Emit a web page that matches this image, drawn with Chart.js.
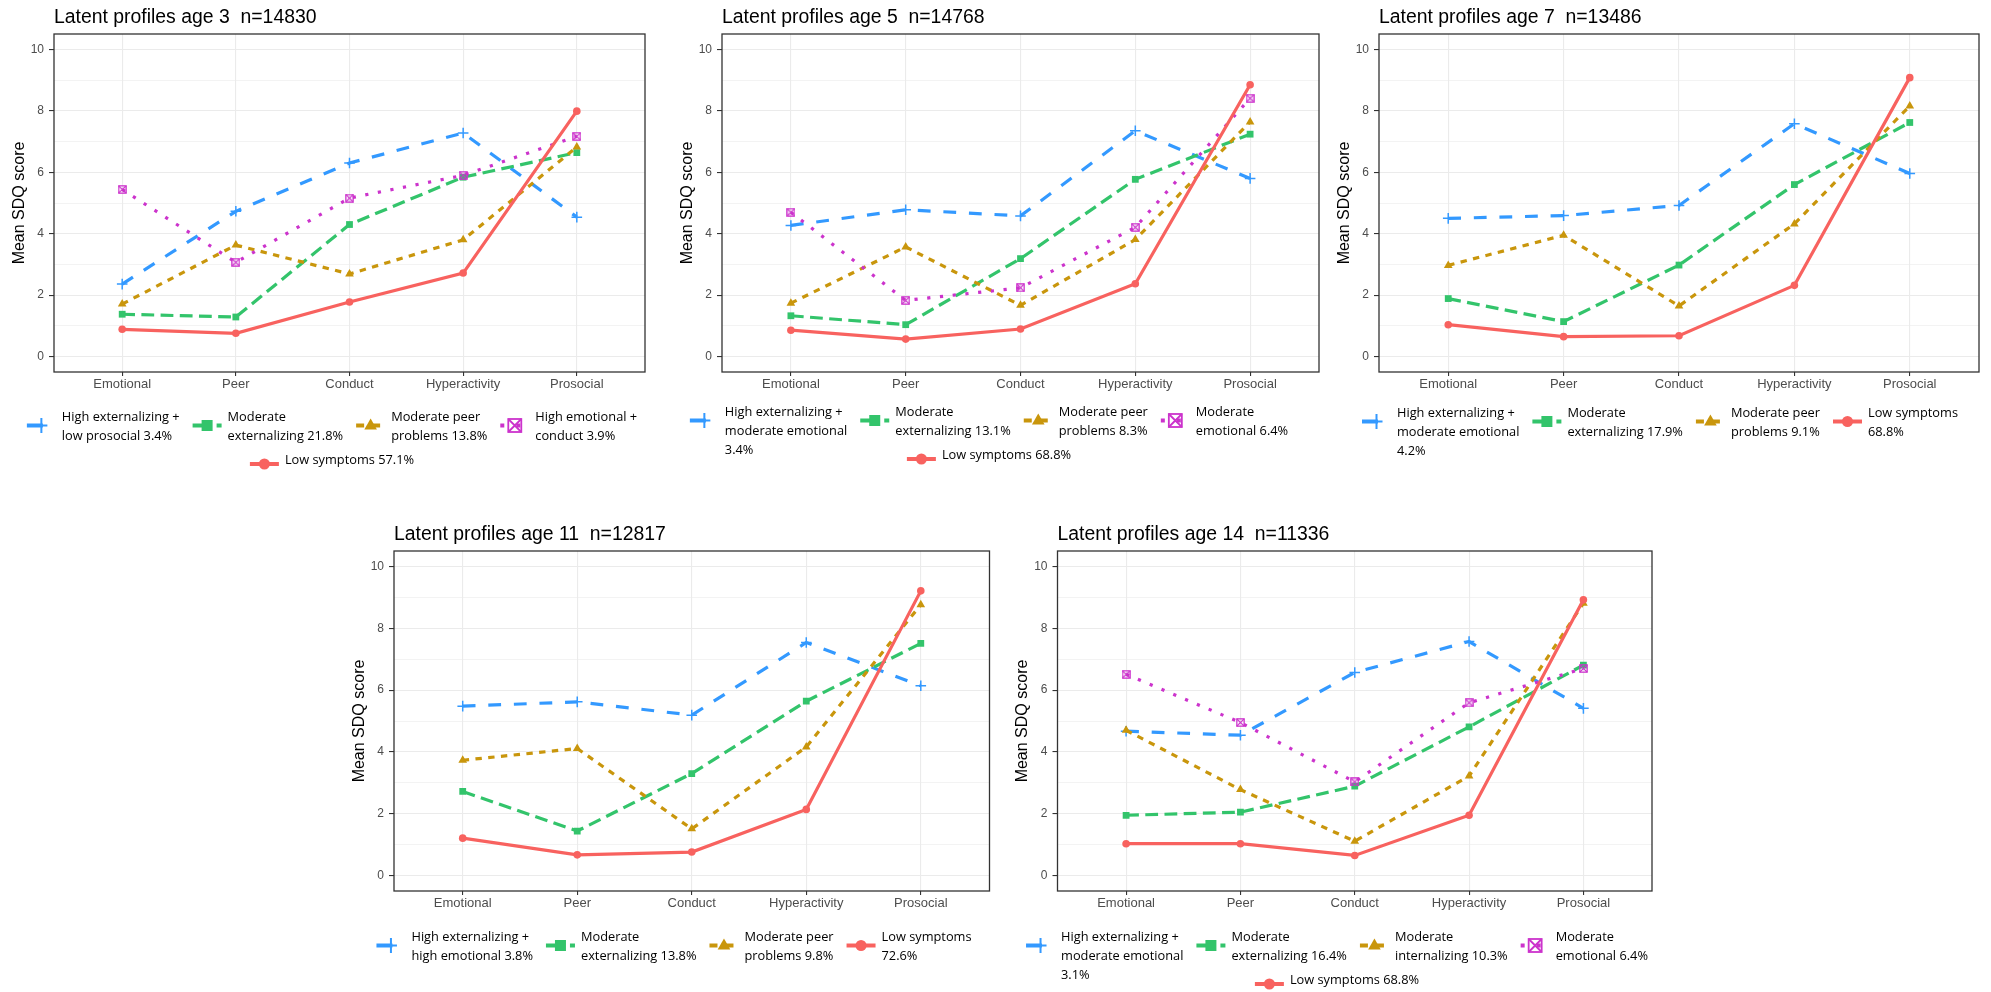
<!DOCTYPE html>
<html>
<head>
<meta charset="utf-8">
<script src="https://cdn.jsdelivr.net/npm/chart.js@4.4.1/dist/chart.umd.min.js"></script>
<style>
  html, body { margin: 0; padding: 0; background: #fff; }
  body { width: 1991px; height: 992px; position: relative; overflow: hidden; }
  canvas { position: absolute; }
</style>
</head>
<body>
<canvas id="age3"></canvas>
<canvas id="age5"></canvas>
<canvas id="age7"></canvas>
<canvas id="age11"></canvas>
<canvas id="age14"></canvas>
<script>
// ---- data ----
const categories = ['Emotional', 'Peer', 'Conduct', 'Hyperactivity', 'Prosocial'];
const yTicks = [0, 2, 4, 6, 8, 10];
const yMinor = [1, 3, 5, 7, 9];
const yTitle = 'Mean SDQ score';

// age 3
const hiExt3 = [2.36, 4.73, 6.30, 7.28, 4.54];
const modExt3 = [1.38, 1.29, 4.30, 5.84, 6.64];
const modPeer3 = [1.71, 3.63, 2.69, 3.80, 6.82];
const hiEmo3 = [5.44, 3.07, 5.16, 5.90, 7.17];
const low3 = [0.89, 0.76, 1.78, 2.72, 7.99];
// age 5
const hiExt5 = [4.27, 4.78, 4.58, 7.35, 5.80];
const modExt5 = [1.33, 1.04, 3.19, 5.77, 7.24];
const modPeer5 = [1.74, 3.57, 1.67, 3.81, 7.64];
const modEmo5 = [4.70, 1.83, 2.24, 4.21, 8.41];
const low5 = [0.86, 0.57, 0.90, 2.37, 8.85];
// age 7
const hiExt7 = [4.50, 4.59, 4.92, 7.58, 5.96];
const modExt7 = [1.89, 1.14, 2.98, 5.60, 7.62];
const modPeer7 = [2.97, 3.95, 1.65, 4.32, 8.16];
const low7 = [1.04, 0.65, 0.68, 2.32, 9.08];
// age 11
const hiExt11 = [5.48, 5.62, 5.19, 7.54, 6.14];
const modExt11 = [2.72, 1.44, 3.30, 5.64, 7.51];
const modPeer11 = [3.73, 4.11, 1.51, 4.16, 8.76];
const low11 = [1.21, 0.67, 0.76, 2.14, 9.21];
// age 14
const hiExt14 = [4.67, 4.54, 6.57, 7.57, 5.41];
const modExt14 = [1.95, 2.05, 2.89, 4.81, 6.81];
const modInt14 = [4.70, 2.78, 1.11, 3.22, 8.81];
const modEmo14 = [6.51, 4.95, 3.03, 5.59, 6.70];
const low14 = [1.03, 1.03, 0.65, 1.95, 8.92];

// legend labels (line breaks as in the picture)
const labels3 = [['High externalizing +', 'low prosocial 3.4%'], ['Moderate', 'externalizing 21.8%'],
  ['Moderate peer', 'problems 13.8%'], ['High emotional +', 'conduct 3.9%'], ['Low symptoms 57.1%']];
const labels5 = [['High externalizing +', 'moderate emotional', '3.4%'], ['Moderate', 'externalizing 13.1%'],
  ['Moderate peer', 'problems 8.3%'], ['Moderate', 'emotional 6.4%'], ['Low symptoms 68.8%']];
const labels7 = [['High externalizing +', 'moderate emotional', '4.2%'], ['Moderate', 'externalizing 17.9%'],
  ['Moderate peer', 'problems 9.1%'], ['Low symptoms', '68.8%']];
const labels11 = [['High externalizing +', 'high emotional 3.8%'], ['Moderate', 'externalizing 13.8%'],
  ['Moderate peer', 'problems 9.8%'], ['Low symptoms', '72.6%']];
const labels14 = [['High externalizing +', 'moderate emotional', '3.1%'], ['Moderate', 'externalizing 16.4%'],
  ['Moderate', 'internalizing 10.3%'], ['Moderate', 'emotional 6.4%'], ['Low symptoms 68.8%']];

// ---- styles ----
const LW = 3.2; // line width, dash units are multiples of it (ggplot style)
const S = {
  blue:    { color: '#3399FF', dash: [4, 4], point: 'cross' },
  green:   { color: '#33C46B', dash: [4, 2], point: 'rect' },
  gold:    { color: '#C9960C', dash: [2, 2], point: 'triangle' },
  magenta: { color: '#CC33CC', dash: [1, 3], point: 'boxX' },
  red:     { color: '#F8625F', dash: [], point: 'circle' }
};

const baseFont = '"Liberation Sans", Arial, sans-serif';
const legendFont = '12.8px "Open Sans", "Noto Sans", sans-serif';

function makeBoxX(size, lw, color) {
  const c = document.createElement('canvas');
  c.width = size; c.height = size;
  const g = c.getContext('2d');
  g.strokeStyle = color; g.lineWidth = lw;
  const m = lw / 2 + 0.2;
  g.strokeRect(m, m, size - 2 * m, size - 2 * m);
  g.beginPath();
  g.moveTo(m, m); g.lineTo(size - m, size - m);
  g.moveTo(size - m, m); g.lineTo(m, size - m);
  g.stroke();
  return c;
}
const boxXPoint = makeBoxX(9, 1.3, S.magenta.color);

function pointOpts(style) {
  switch (style.point) {
    case 'cross': return { pointStyle: 'cross', pointRadius: 5.3, pointBorderWidth: 1.5 };
    case 'rect': return { pointStyle: 'rect', pointRadius: 4.8, pointBorderWidth: 0 };
    case 'triangle': return { pointStyle: 'triangle', pointRadius: 5, pointBorderWidth: 0 };
    case 'boxX': return { pointStyle: boxXPoint, pointRadius: 4.5, pointBorderWidth: 0 };
    default: return { pointStyle: 'circle', pointRadius: 3.8, pointBorderWidth: 0 };
  }
}

// legend key marker (drawn larger than in the plot, like the picture)
function keyMarker(ctx, style, x, y) {
  ctx.save();
  ctx.fillStyle = style.color; ctx.strokeStyle = style.color; ctx.setLineDash([]);
  ctx.beginPath();
  if (style.point === 'cross') {
    ctx.lineWidth = 2;
    ctx.moveTo(x, y - 7.5); ctx.lineTo(x, y + 7.5);
    ctx.moveTo(x - 6, y); ctx.lineTo(x + 6, y);
    ctx.stroke();
  } else if (style.point === 'rect') {
    ctx.fillRect(x - 5.5, y - 5.5, 11, 11);
  } else if (style.point === 'triangle') {
    ctx.moveTo(x, y - 7); ctx.lineTo(x + 6.3, y + 4); ctx.lineTo(x - 6.3, y + 4); ctx.closePath();
    ctx.fill();
  } else if (style.point === 'boxX') {
    ctx.lineWidth = 1.8;
    ctx.strokeRect(x - 6.5, y - 6.5, 13, 13);
    ctx.moveTo(x - 6.5, y - 6.5); ctx.lineTo(x + 6.5, y + 6.5);
    ctx.moveTo(x + 6.5, y - 6.5); ctx.lineTo(x - 6.5, y + 6.5);
    ctx.stroke();
  } else {
    ctx.arc(x, y, 5.5, 0, Math.PI * 2);
    ctx.fill();
  }
  ctx.restore();
}

// ---- panels (page layout) ----
const panels = [
  { id: 'age3', title: 'Latent profiles age 3  n=14830', left: 0, top: 0, width: 665, height: 490,
    box: [54, 34, 645, 372], legendX: 332, legendY: 417, rows: [[0, 1, 2, 3], [4]],
    series: [[hiExt3, S.blue], [modExt3, S.green], [modPeer3, S.gold], [hiEmo3, S.magenta], [low3, S.red]], labels: labels3 },
  { id: 'age5', title: 'Latent profiles age 5  n=14768', left: 665, top: 0, width: 665, height: 490,
    box: [722, 34, 1319, 372], legendX: 989, legendY: 412, rows: [[0, 1, 2, 3], [4]],
    series: [[hiExt5, S.blue], [modExt5, S.green], [modPeer5, S.gold], [modEmo5, S.magenta], [low5, S.red]], labels: labels5 },
  { id: 'age7', title: 'Latent profiles age 7  n=13486', left: 1330, top: 0, width: 661, height: 490,
    box: [1379, 34, 1979, 372], legendX: 1660, legendY: 413, rows: [[0, 1, 2, 3]],
    series: [[hiExt7, S.blue], [modExt7, S.green], [modPeer7, S.gold], [low7, S.red]], labels: labels7 },
  { id: 'age11', title: 'Latent profiles age 11  n=12817', left: 340, top: 495, width: 665, height: 497,
    box: [394, 551, 989.5, 891], legendX: 674, legendY: 937, rows: [[0, 1, 2, 3]],
    series: [[hiExt11, S.blue], [modExt11, S.green], [modPeer11, S.gold], [low11, S.red]], labels: labels11 },
  { id: 'age14', title: 'Latent profiles age 14  n=11336', left: 1005, top: 495, width: 680, height: 497,
    box: [1057.5, 551, 1652, 891], legendX: 1337, legendY: 937, rows: [[0, 1, 2, 3], [4]],
    series: [[hiExt14, S.blue], [modExt14, S.green], [modInt14, S.gold], [modEmo14, S.magenta], [low14, S.red]], labels: labels14 }
];

function drawLegend(ctx, p) {
  const KEY_W = 29, TEXT_OFF = 35, GAP = 13, LINE_H = 19.3;
  ctx.save();
  ctx.font = legendFont;
  ctx.textAlign = 'left';
  ctx.textBaseline = 'middle';
  p.rows.forEach((row, r) => {
    const widths = row.map(i => TEXT_OFF + Math.max(...p.labels[i].map(t => ctx.measureText(t).width)));
    const total = widths.reduce((a, b) => a + b, 0) + GAP * (row.length - 1);
    let x = p.legendX - p.left - total / 2;
    const y0 = p.legendY - p.top + r * 43;
    row.forEach((i, k) => {
      const style = p.series[i][1];
      const lines = p.labels[i];
      const ky = lines.length > 1 ? y0 + 8.5 : y0 + 4;
      // key line
      ctx.save();
      ctx.strokeStyle = style.color;
      ctx.lineWidth = 4;
      ctx.lineCap = 'butt';
      ctx.setLineDash(style.dash.map(d => d * 4));
      ctx.beginPath();
      ctx.moveTo(x, ky); ctx.lineTo(x + KEY_W, ky);
      ctx.stroke();
      ctx.restore();
      keyMarker(ctx, style, x + KEY_W / 2, ky);
      ctx.fillStyle = '#000';
      lines.forEach((t, j) => ctx.fillText(t, x + TEXT_OFF, y0 + j * LINE_H));
      x += widths[k] + GAP;
    });
  });
  ctx.restore();
}

function framePlugin(p) {
  return {
    id: 'frame_' + p.id,
    afterDraw(chart) {
      const ctx = chart.ctx, a = chart.chartArea;
      ctx.save();
      ctx.strokeStyle = '#333333';
      ctx.lineWidth = 1.3;
      ctx.strokeRect(a.left, a.top, a.right - a.left, a.bottom - a.top);
      ctx.fillStyle = '#000';
      ctx.font = '19.4px ' + baseFont;
      ctx.textAlign = 'left';
      ctx.textBaseline = 'alphabetic';
      ctx.fillText(p.title, a.left, a.top - 11.3);
      ctx.translate(a.left - 34.5, (a.top + a.bottom) / 2);
      ctx.rotate(-Math.PI / 2);
      ctx.font = '16px ' + baseFont;
      ctx.textAlign = 'center';
      ctx.textBaseline = 'middle';
      ctx.fillText(yTitle, 0, 0);
      ctx.restore();
      drawLegend(ctx, p);
    }
  };
}

const isMinor = c => c.tick && yMinor.includes(c.tick.value);

function makeChart(p) {
  const canvas = document.getElementById(p.id);
  canvas.width = p.width;
  canvas.height = p.height;
  canvas.style.left = p.left + 'px';
  canvas.style.top = p.top + 'px';
  const bx0 = p.box[0] - p.left, by0 = p.box[1] - p.top;
  const bx1 = p.box[2] - p.left, by1 = p.box[3] - p.top;
  const xAxisH = 26;

  // reversed so the solid "Low symptoms" line ends up on top
  const datasets = p.series.map(([values, style], i) => Object.assign({
    label: p.labels[i].join(' '),
    data: values.map((v, k) => ({ x: k + 1, y: v })),
    borderColor: style.color,
    backgroundColor: style.color,
    borderWidth: LW,
    borderDash: style.dash.map(d => d * LW),
    borderCapStyle: 'butt',
    tension: 0,
    fill: false
  }, pointOpts(style))).reverse();

  new Chart(canvas, {
    type: 'line',
    data: { datasets: datasets },
    options: {
      responsive: false,
      animation: false,
      layout: { padding: { left: 0, top: by0, right: p.width - bx1, bottom: p.height - by1 - xAxisH } },
      plugins: { legend: { display: false }, tooltip: { enabled: false } },
      scales: {
        x: {
          type: 'linear', min: 0.4, max: 5.6,
          afterBuildTicks: s => { s.ticks = categories.map((c, i) => ({ value: i + 1 })); },
          afterFit: s => { s.height = xAxisH; },
          border: { display: false },
          grid: { color: '#EBEBEB', lineWidth: 1.1, tickColor: '#333333', tickLength: 4, tickWidth: 1.1 },
          ticks: {
            callback: v => categories[v - 1],
            color: '#4D4D4D', font: { family: baseFont, size: 13 },
            padding: 1, maxRotation: 0, autoSkip: false
          }
        },
        y: {
          type: 'linear', min: -0.5, max: 10.5,
          afterBuildTicks: s => { s.ticks = yTicks.concat(yMinor).sort((a, b) => a - b).map(v => ({ value: v })); },
          afterFit: s => { s.width = bx0; },
          border: { display: false },
          grid: {
            color: '#EBEBEB',
            lineWidth: c => isMinor(c) ? 0.6 : 1.1,
            tickColor: c => isMinor(c) ? 'rgba(0,0,0,0)' : '#333333',
            tickLength: 5, tickWidth: 1.1
          },
          ticks: {
            callback: v => yTicks.includes(v) ? String(v) : '',
            color: '#4D4D4D', font: { family: baseFont, size: 12 },
            padding: 5, autoSkip: false
          }
        }
      }
    },
    plugins: [framePlugin(p)]
  });
}

panels.forEach(makeChart);
</script>
</body>
</html>
